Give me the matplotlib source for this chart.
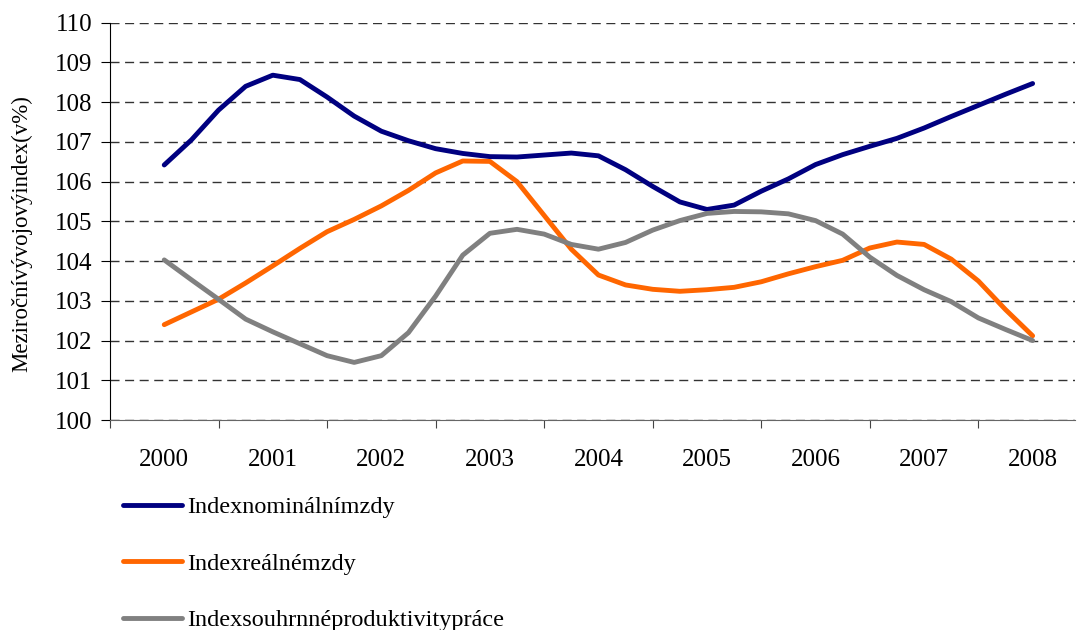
import numpy as np
import matplotlib.pyplot as plt

plt.rcParams['font.family'] = ['Liberation Serif', 'DejaVu Serif']

years = ['2000', '2001', '2002', '2003', '2004', '2005', '2006', '2007', '2008']

# quarterly readings, 2000 Q1 .. 2008 Q1
nominal = [106.42, 107.05, 107.80, 108.40, 108.68, 108.57, 108.13, 107.65, 107.27,
           107.03, 106.83, 106.71, 106.63, 106.62, 106.67, 106.72, 106.65, 106.30,
           105.88, 105.49, 105.30, 105.41, 105.76, 106.07, 106.43, 106.68, 106.89,
           107.09, 107.35, 107.64, 107.92, 108.20, 108.47]
real = [102.40, 102.72, 103.04, 103.45, 103.88, 104.32, 104.74, 105.05, 105.39,
        105.78, 106.22, 106.52, 106.51, 106.00, 105.15, 104.30, 103.65, 103.40,
        103.29, 103.24, 103.28, 103.34, 103.48, 103.68, 103.86, 104.02, 104.33,
        104.48, 104.42, 104.05, 103.50, 102.78, 102.12]
productivity = [104.03, 103.53, 103.04, 102.54, 102.22, 101.92, 101.62, 101.45, 101.62,
                102.20, 103.12, 104.15, 104.70, 104.80, 104.68, 104.42, 104.30, 104.47,
                104.78, 105.02, 105.20, 105.25, 105.24, 105.19, 105.02, 104.68, 104.10,
                103.64, 103.28, 102.98, 102.57, 102.28, 102.00]

labels = ['Indexnominálnímzdy', 'Indexreálnémzdy', 'Indexsouhrnnéproduktivitypráce']
colors = ['#000080', '#FF6600', '#808080']

t = np.arange(len(nominal)) / 4.0

fig = plt.figure(figsize=(10.77, 6.3), dpi=100)
ax = fig.add_axes([0.1021, 0.3333, 0.896, 0.6306])

lines = []
for y, c, lab in zip([nominal, real, productivity], colors, labels):
    l, = ax.plot(t, y, color=c, lw=3.5, solid_capstyle='round', label=lab)
    lines.append(l)

ax.set_ylim(100, 110)
ax.set_xlim(-0.5, 8.39)
ax.set_yticks(np.arange(100, 111, 1))
ax.yaxis.grid(True, ls=(0, (6.5, 4)), color='#333333', lw=1)
ax.set_axisbelow(True)

ax.set_xticks(np.arange(-0.5, 8.5, 1))
ax.set_xticklabels([])
ax.set_xticks(np.arange(0, 9), minor=True)
ax.set_xticklabels(years, minor=True)
ax.tick_params(axis='x', which='major', length=6, color='#444444', direction='out')
ax.tick_params(axis='x', which='minor', length=0, pad=21, labelsize=18)
ax.tick_params(axis='y', length=6.5, pad=6, labelsize=18, direction='out')

for s in ['top', 'right']:
    ax.spines[s].set_visible(False)
ax.spines['bottom'].set_color('#666666')
ax.spines['left'].set_color('black')

ax.set_ylabel('Meziročnívývojovýindex(v%)', fontsize=16.5)
ax.yaxis.set_label_coords(-0.081, 0.47)

fig.legend(handles=lines, loc='upper left', bbox_to_anchor=(0.105, 0.228),
           frameon=False, fontsize=17.5, handlelength=2.45, handletextpad=0.2,
           labelspacing=1.42, borderaxespad=0)

fig.savefig('out.png', dpi=100)
